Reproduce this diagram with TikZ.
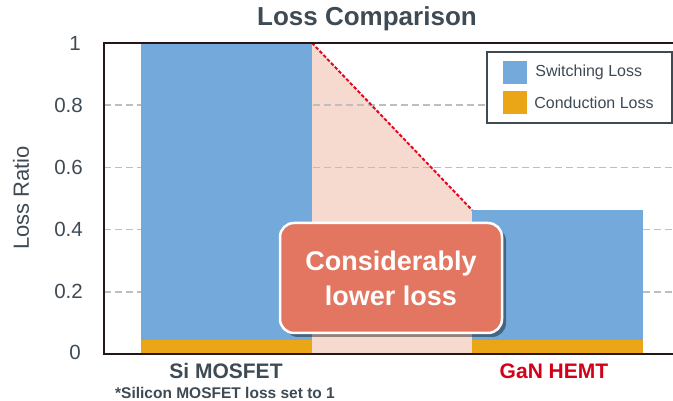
\documentclass[tikz,border=0pt]{standalone}
\usepackage{fontspec}
\setmainfont{Liberation Sans}
\usepackage{xcolor}
\usetikzlibrary{positioning,shadows}

\definecolor{switchblue}{RGB}{116,170,219}
\definecolor{condorange}{RGB}{234,166,22}
\definecolor{gappink}{RGB}{246,218,207}
\definecolor{calloutred}{RGB}{226,118,96}
\definecolor{labelgray}{RGB}{62,74,84}
\definecolor{ganred}{RGB}{210,0,25}
\definecolor{trendred}{RGB}{226,8,32}
\definecolor{gridgray}{RGB}{190,190,190}
\definecolor{axisblack}{RGB}{35,24,21}

\tikzset{
  gridline/.style={gridgray, line width=1.5pt, dash pattern=on 7pt off 4pt},
  trendline/.style={trendred, line width=2pt, dash pattern=on 3.5pt off 2pt},
  ticklabel/.style={anchor=east, inner sep=0pt, text=labelgray, font=\fontsize{20.5}{24}\selectfont},
  catlabel/.style={anchor=base, inner sep=0pt, text=labelgray, font=\bfseries\fontsize{21}{25}\selectfont},
  swatch/.style={minimum width=24pt, minimum height=23pt, inner sep=0pt},
  legendtext/.style={inner sep=0pt, text=labelgray, font=\fontsize{16}{19}\selectfont},
  callout/.style={rounded corners=14pt, fill=calloutred, draw=white, line width=2.5pt,
    text=white, align=center, font=\bfseries\fontsize{27}{35}\selectfont,
    minimum width=222pt, minimum height=110pt,
    drop shadow={shadow xshift=4pt, shadow yshift=-4pt, opacity=0.4, fill=black}}
}

\begin{document}
\begin{tikzpicture}[x=1pt,y=1pt]
\useasboundingbox (0,0) rectangle (673,401);

% gap between the two bars
\coordinate (siTop) at (312,358);
\coordinate (ganTop) at (472,191);
\fill[gappink] (312,47) -- (siTop) -- (ganTop) -- (472,47) -- cycle;

% grid
\draw[gridline] (104,109.2) -- (673,109.2);
\draw[gridline] (104,171.4) -- (673,171.4);
\draw[gridline] (104,233.6) -- (673,233.6);
\draw[gridline] (104,295.8) -- (673,295.8);

% bars
\fill[switchblue] (141,61) rectangle (312,358);
\fill[condorange] (141,47) rectangle (312,61);
\fill[switchblue] (472,61) rectangle (643,191);
\fill[condorange] (472,47) rectangle (643,61);

\draw[trendline] (siTop) -- (ganTop);

% frame
\draw[axisblack, line width=1.8pt] (673,358) -- (104,358) -- (104,47) -- (673,47);

% y ticks
\node[ticklabel] (tick0) at (81,49) {0};
\node[ticklabel] (tick2) at (83,109.2) {0.2};
\node[ticklabel] (tick4) at (83,171.4) {0.4};
\node[ticklabel] (tick6) at (83,233.6) {0.6};
\node[ticklabel] (tick8) at (83,295.8) {0.8};
\node[ticklabel] (tick10) at (81,358) {1};
\node[text=labelgray, rotate=90, inner sep=0pt, font=\fontsize{22}{26}\selectfont] (ylabel) at (21,203) {Loss Ratio};

% title
\node[anchor=base, inner sep=0pt, text=labelgray, font=\bfseries\fontsize{26}{30}\selectfont] (title) at (367,375) {Loss Comparison};

% legend
\node[draw=labelgray, line width=1.5pt, fill=white, minimum width=185pt, minimum height=71pt] (legend) at (579.5,313.5) {};
\node[swatch, fill=switchblue] (swSwitch) at (515,328.5) {};
\node[swatch, fill=condorange] (swCond) at (515,298.5) {};
\node[legendtext, right=8pt of swSwitch] (txtSwitch) {Switching Loss};
\node[legendtext, right=7pt of swCond] (txtCond) {Conduction Loss};

% categories
\node[catlabel] (siLabel) at (226,22) {Si MOSFET};
\node[catlabel, text=ganred] (ganLabel) at (554,22) {GaN HEMT};
\node[anchor=base, inner sep=0pt, text=labelgray, font=\bfseries\fontsize{15.5}{18}\selectfont] (footnote) at (225,2) {*Silicon MOSFET loss set to 1};

% callout
\node[callout] (gain) at (391,123) {Considerably\\lower loss};
\end{tikzpicture}
\end{document}
